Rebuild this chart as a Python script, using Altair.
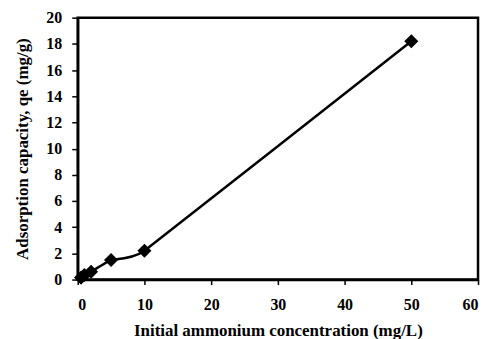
import altair as alt
import pandas as pd

conc = [0.5, 1, 2, 5, 10, 50]
qe = [0.15, 0.35, 0.6, 1.5, 2.2, 18.2]

df = pd.DataFrame({"conc": conc, "qe": qe})

font = "Liberation Serif"

x = alt.X("conc:Q", scale=alt.Scale(domain=[0, 60], nice=False),
          axis=alt.Axis(values=[0, 10, 20, 30, 40, 50, 60], title="Initial ammonium concentration (mg/L)"))
y = alt.Y("qe:Q", scale=alt.Scale(domain=[0, 20], nice=False),
          axis=alt.Axis(values=list(range(0, 21, 2)), title="Adsorption capacity, qe (mg/g)"))

line = alt.Chart(df).mark_line(color="black", strokeWidth=2.5, interpolate="cardinal", tension=0.75).encode(x=x, y=y)
pts = alt.Chart(df).mark_point(shape="diamond", filled=True, color="black", size=200, opacity=1).encode(x=x, y=y)

chart = (line + pts).properties(
    width=402, height=263,
    padding={"left": 6, "top": 1, "right": 5, "bottom": 5},
).configure_view(
    stroke="black", strokeWidth=2.5
).configure_axis(
    grid=False,
    domain=True, domainColor="black", domainWidth=2.5,
    tickColor="black", tickWidth=1.5,
    labelFont=font, labelFontSize=16, labelFontWeight="bold", labelColor="black",
    titleFont=font, titleFontSize=17, titleFontWeight="bold", titleColor="black",
).configure_axisX(tickSize=5, titlePadding=10, labelPadding=12).configure_axisY(
    tickSize=6, labelPadding=10, titlePadding=14)

chart.save("out.html", embed_options={"renderer": "svg", "actions": False})
